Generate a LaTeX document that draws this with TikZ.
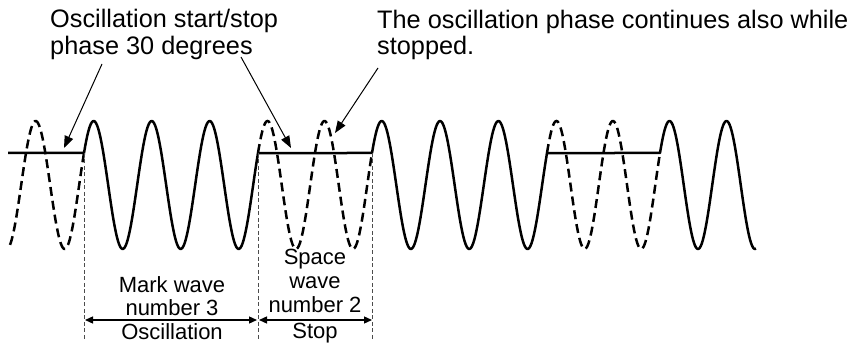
\documentclass[tikz,border=0pt]{standalone}
\usepackage{fontspec}
\setmainfont{Liberation Sans}
\usetikzlibrary{arrows.meta}
\begin{document}
\begin{tikzpicture}[x=1pt,y=-1pt,
  wave/.style={line width=2.5pt, line join=round},
  ghost/.style={line width=2.5pt, dash pattern=on 9pt off 5pt},
  guide/.style={line width=0.9pt, draw=black!70, dash pattern=on 4pt off 2.5pt},
  callout/.style={line width=1pt, -{Triangle[length=12pt,width=9pt]}},
  dim/.style={line width=1.3pt, {Triangle[length=8pt,width=7pt]}-{Triangle[length=8pt,width=7pt]}},
  toptext/.style={font=\fontsize{25.3}{27}\selectfont, inner sep=0pt, anchor=base west},
  bottext/.style={font=\fontsize{22}{24}\selectfont, inner sep=0pt, anchor=base},
]
\useasboundingbox (0,0) rectangle (857,347);

% segment boundaries on the base level
\coordinate (s0) at (8,153);
\coordinate (b1) at (84,153);
\coordinate (b2) at (258,153);
\coordinate (b3) at (372,153);
\coordinate (b4) at (547,153);
\coordinate (b5) at (660,153);

% solid signal
\draw[wave] (s0) -- (b1)
  -- plot[domain=84:258, samples=160] (\x, {185-64*sin(30+(\x-84)/58*360)})
  -- (b3)
  -- plot[domain=372:547, samples=160] (\x, {185-64*sin(30+(\x-372)/58.333*360)})
  -- (b5)
  -- plot[domain=660:756, samples=100] (\x, {185-64*sin(30+(\x-660)/57*360)});

% phase continuing while stopped (dashed)
\draw[ghost] plot[domain=10:84, samples=80] (\x, {185-64*sin(30+(\x-84)/58*360)});
\draw[ghost] plot[domain=258:372, samples=110] (\x, {185-64*sin(30+(\x-258)/57*360)});
\draw[ghost] plot[domain=547:660, samples=110] (\x, {185-64*sin(30+(\x-547)/56.5*360)});

% vertical guides
\coordinate (g1) at (84,341);
\coordinate (g2) at (258,341);
\coordinate (g3) at (372,341);
\draw[guide] (b1) -- (g1);
\draw[guide] (b2) -- (g2);
\draw[guide] (b3) -- (g3);

% dimension arrows
\coordinate (d1a) at (85,320);
\coordinate (d1b) at (257,320);
\coordinate (d2a) at (259,320);
\coordinate (d2b) at (372,320);
\draw[dim] (d1a) -- (d1b);
\draw[dim] (d2a) -- (d2b);

% bottom labels
\node[bottext] (m1) at (172,293) {Mark wave};
\node[bottext] (m2) at (172,316) {number 3};
\node[bottext] (m3) at (172,340) {Oscillation};
\node[bottext] (n1) at (315,265) {Space};
\node[bottext] (n2) at (315,289) {wave};
\node[bottext] (n3) at (315,313) {number 2};
\node[bottext] (n4) at (315,339) {Stop};

% top labels
\node[toptext] (t1a) at (50,28) {Oscillation start/stop};
\node[toptext] (t1b) at (50,55) {phase 30 degrees};
\node[toptext] (t2a) at (377,29) {The oscillation phase continues also while};
\node[toptext] (t2b) at (377,55) {stopped.};

% callout arrows
\coordinate (c1s) at (102,64);
\coordinate (c1e) at (64,148);
\coordinate (c2s) at (241,57);
\coordinate (c2e) at (291,148);
\coordinate (c3s) at (378,68);
\coordinate (c3e) at (335,133);
\draw[callout] (c1s) -- (c1e);
\draw[callout] (c2s) -- (c2e);
\draw[callout] (c3s) -- (c3e);
\end{tikzpicture}
\end{document}
